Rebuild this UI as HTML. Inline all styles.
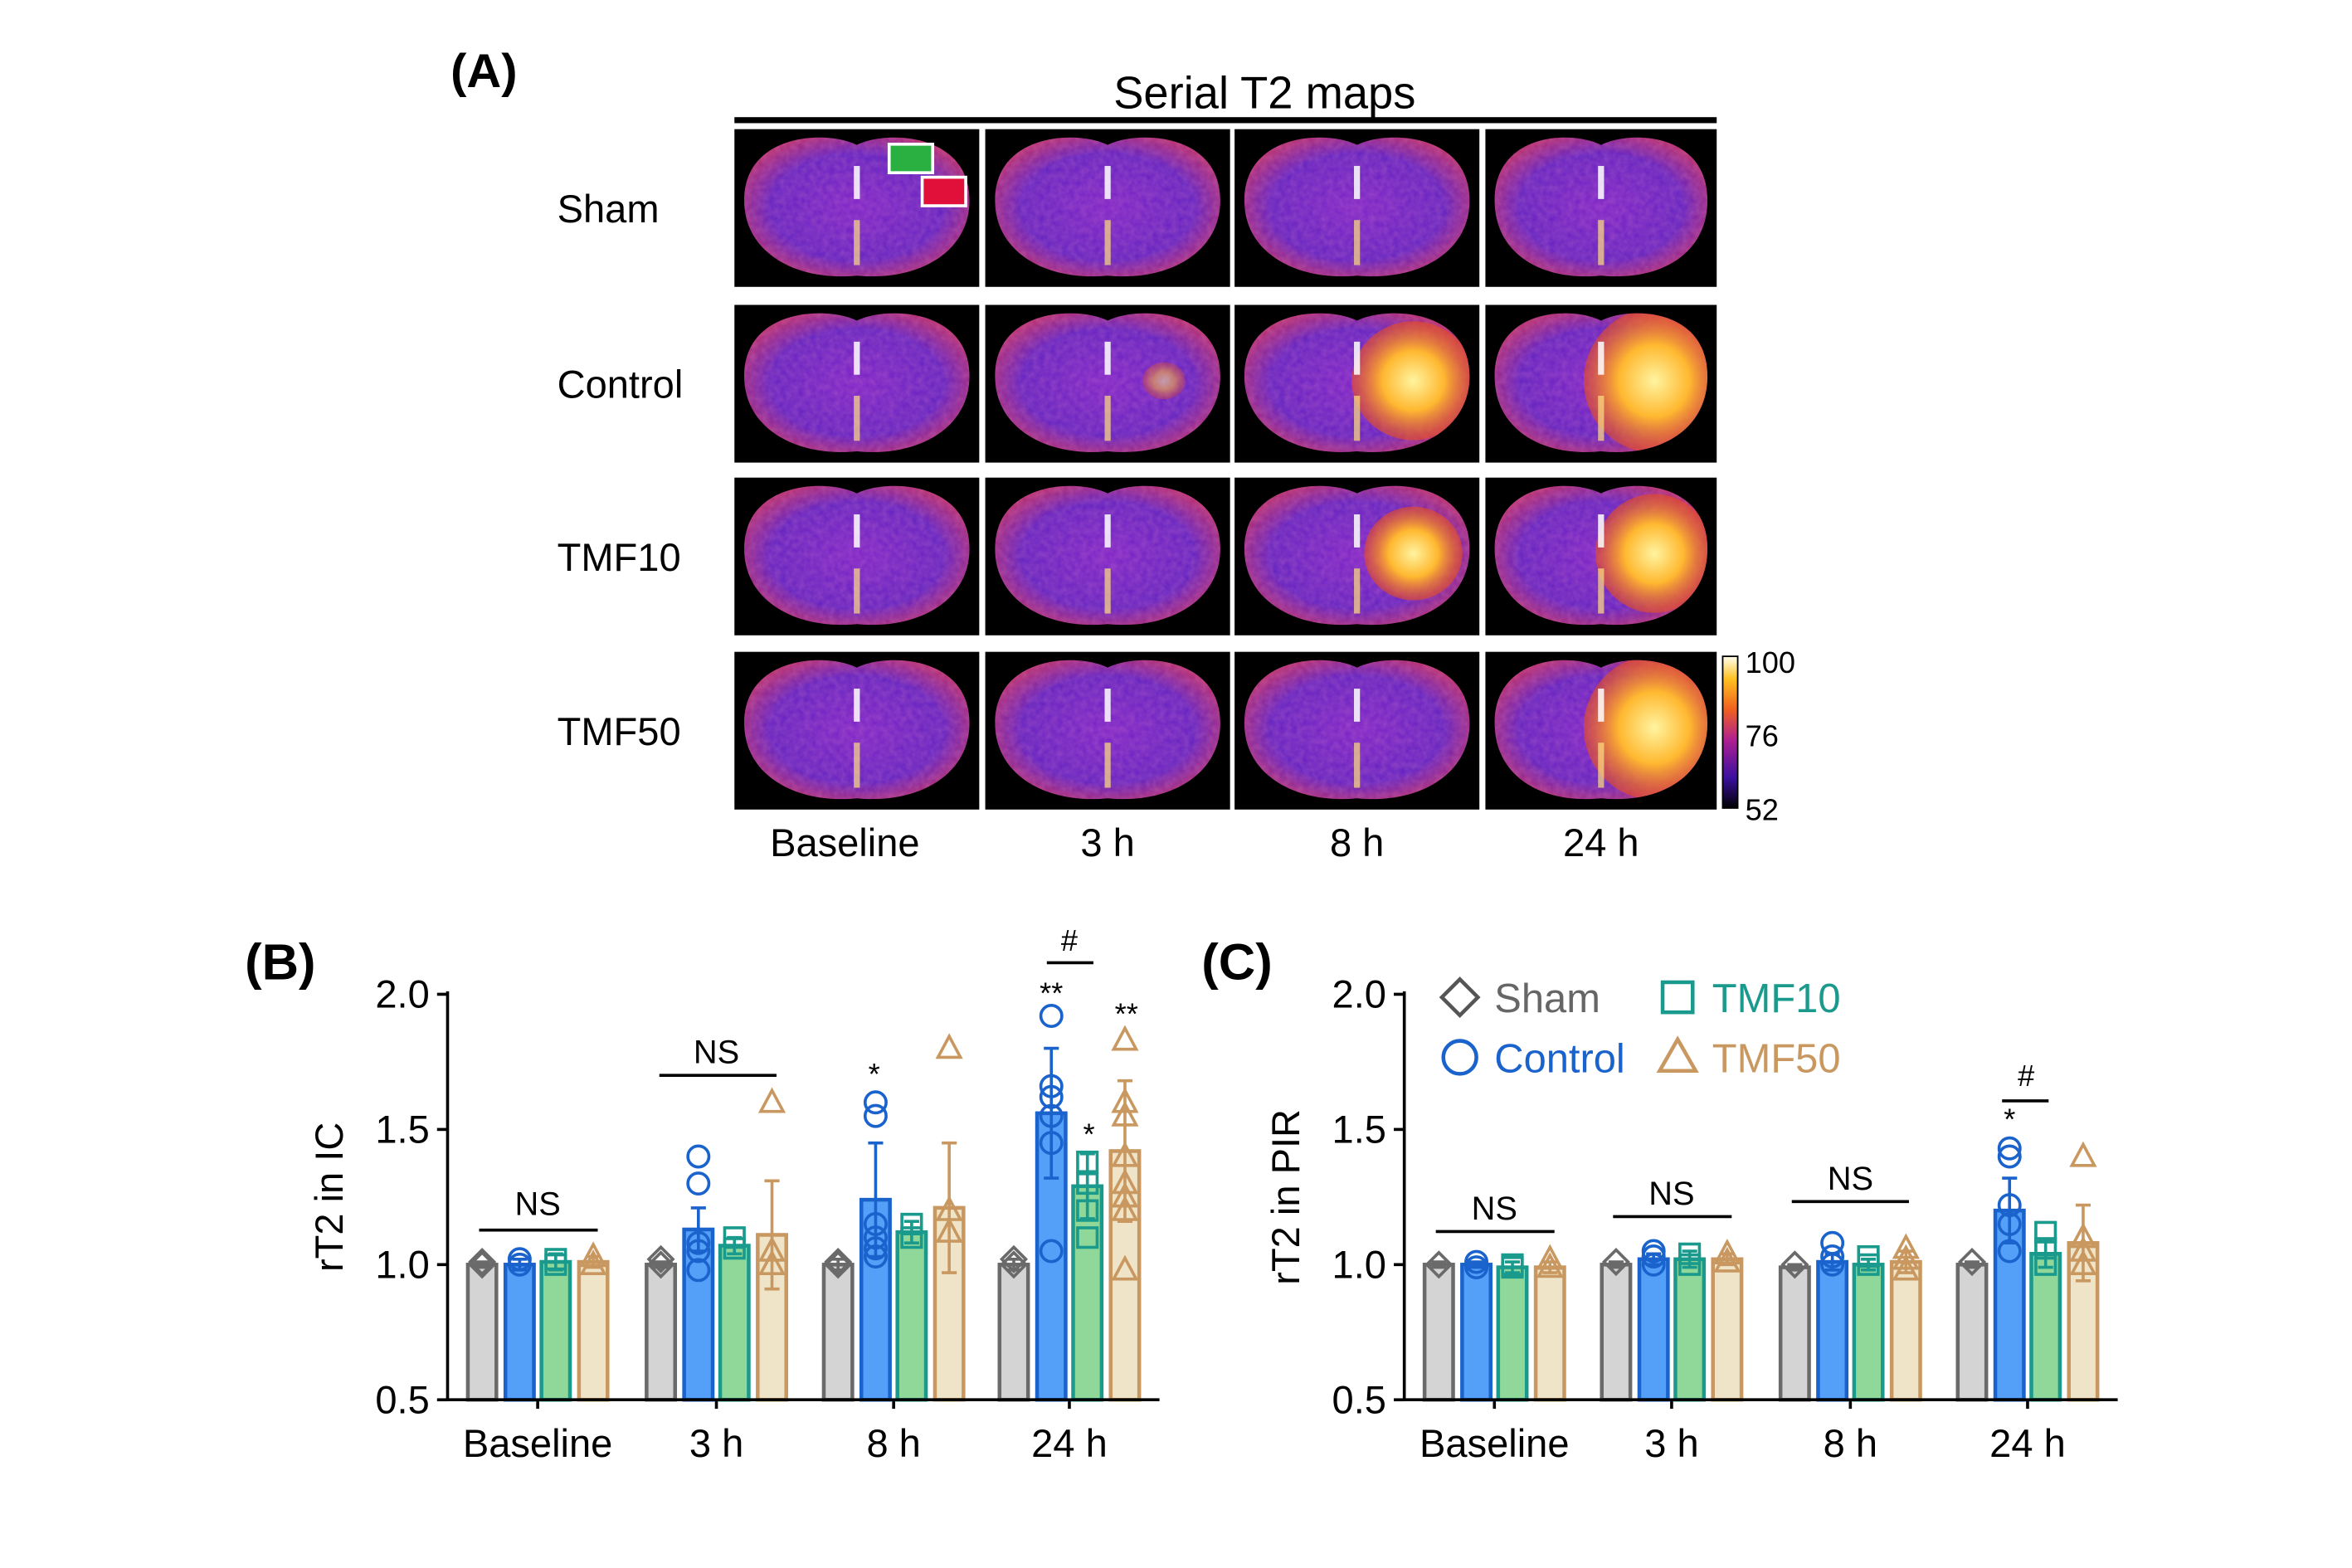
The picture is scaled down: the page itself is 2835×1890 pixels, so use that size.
<!DOCTYPE html>
<html><head><meta charset="utf-8"><style>
html,body{margin:0;padding:0;background:#fff}
svg{display:block}
text{font-family:"Liberation Sans",Arial,sans-serif}
</style></head><body>
<svg id="fig" width="2835" height="1890" viewBox="0 0 1566 1044" preserveAspectRatio="none" xmlns="http://www.w3.org/2000/svg">
<defs id="defs">
<radialGradient id="brainG" cx="50%" cy="50%" r="55%">
<stop offset="0" stop-color="#7a22c8"/><stop offset="0.7" stop-color="#6020c0"/><stop offset="1" stop-color="#b02c70"/></radialGradient>
<radialGradient id="hotG" cx="50%" cy="50%" r="50%">
<stop offset="0" stop-color="#fff4a0"/><stop offset="0.5" stop-color="#ffb830"/><stop offset="1" stop-color="#e84a20" stop-opacity="0.6"/></radialGradient>
<linearGradient id="cbar" x1="0" y1="1" x2="0" y2="0">
<stop offset="0" stop-color="#000"/><stop offset="0.2" stop-color="#3a10a0"/><stop offset="0.45" stop-color="#b02090"/><stop offset="0.65" stop-color="#f06020"/><stop offset="0.85" stop-color="#ffc020"/><stop offset="1" stop-color="#fffff0"/></linearGradient>
<filter id="noise"><feTurbulence type="fractalNoise" baseFrequency="0.25" numOctaves="2" seed="3"/><feColorMatrix values="0 0 0 0 0.9 0 0 0 0 0.3 0 0 0 0 0.6 0 0 0 0.5 0"/><feComposite in2="SourceGraphic" operator="in"/></filter>
</defs>
<text x="300" y="58" font-size="32" font-weight="bold">(A)</text>
<text x="842" y="72" font-size="30" text-anchor="middle">Serial T2 maps</text>
<rect x="489" y="78" width="654" height="4" fill="#000"/>
<g id="maps"></g>
<rect x="1147" y="437" width="10" height="101" fill="url(#cbar)" stroke="#000" stroke-width="1"/>
<text x="1162" y="448" font-size="20">100</text>
<text x="1162" y="497" font-size="20">76</text>
<text x="1162" y="546" font-size="20">52</text>
<g id="chartB"></g>
<g id="chartC"></g>
</svg>
<script>
const NS="http://www.w3.org/2000/svg";
function mk(p,tag,a){const e=document.createElementNS(NS,tag);for(const k in a)e.setAttribute(k,a[k]);p.appendChild(e);return e;}
// ---------- Panel A ----------
const rowLabels=["Sham","Control","TMF10","TMF50"];
const colLabels=["Baseline","3 h","8 h","24 h"];
const colX=[489,656,822,989], colW=[163,163,163,154];
const rowY=[86,203,318,434], rowH=105;
const lesion=[[0,0,0,0],[0,0.15,0.8,1],[0,0,0.6,0.8],[0,0,0,1]];
const maps=document.getElementById('maps');
const defs=document.getElementById('defs');
rowLabels.forEach((r,i)=>{
  const t=mk(maps,'text',{x:371,y:rowY[i]+62,'font-size':26});t.textContent=r;
  
  
  colLabels.forEach((c,j)=>{
    const g=mk(maps,'g',{});
    
    
    const x=colX[j],y=rowY[i],w=colW[j];
    mk(g,'rect',{x:x,y:y,width:w,height:rowH,fill:'#000'});
    const cx=x+w/2,cy=y+rowH/2;
    const ew=w*0.46;
    const d=`M${cx} ${cy-42} C${cx-20} ${cy-52} ${cx-ew} ${cy-50} ${cx-ew} ${cy-5} C${cx-ew} ${cy+30} ${cx-40} ${cy+49} ${cx} ${cy+45} C${cx+40} ${cy+49} ${cx+ew} ${cy+30} ${cx+ew} ${cy-5} C${cx+ew} ${cy-50} ${cx+20} ${cy-52} ${cx} ${cy-42}Z`;
    const cid='clip'+i+'_'+j;
    const cp=mk(defs,'clipPath',{id:cid});mk(cp,'path',{d:d});
    mk(g,'path',{d:d,fill:'url(#brainG)'});
    mk(g,'path',{d:d,fill:'#fff',filter:'url(#noise)',opacity:0.6});
    const L=lesion[i][j];
    if(L>0) mk(g,'ellipse',{cx:cx+ew*0.5,cy:cy-2,rx:ew*0.55*L+8,ry:42*L+6,fill:'url(#hotG)',opacity:Math.min(1,0.4+L),'clip-path':`url(#${cid})`});
    mk(g,'rect',{x:cx-2,y:cy-28,width:4,height:22,fill:'#fff',opacity:0.85});
    mk(g,'rect',{x:cx-2,y:cy+8,width:4,height:30,fill:'#ffe080',opacity:0.7});
  });
});
colLabels.forEach((c,j)=>{const t=mk(maps,'text',{x:colX[j]+colW[j]/2+(j==0?-8:0),y:570,'font-size':26,'text-anchor':'middle'});t.textContent=c;

});
mk(maps,'rect',{x:592,y:96,width:29,height:19,fill:'#2ab040',stroke:'#fff','stroke-width':2});
mk(maps,'rect',{x:614,y:118,width:29,height:19,fill:'#e0103a',stroke:'#fff','stroke-width':2});

// ---------- Charts B & C data ----------
const groups=["Baseline","3 h","8 h","24 h"];
const seriesNames=["Sham","Control","TMF10","TMF50"];
const icMeans=[[1.0,1.0,1.01,1.01],[1.0,1.13,1.07,1.11],[1.0,1.24,1.12,1.21],[1.0,1.56,1.29,1.42]];
const icErr=[[0.01,0.02,0.03,0.02],[0.01,0.08,0.03,0.2],[0.02,0.21,0.04,0.24],[0.02,0.24,0.12,0.26]];
const icPts=[[[1.0,1.01],[1.02,1.0],[1.02,1.0],[1.03,1.0]],[[1.0,1.02],[1.4,1.3,1.08,1.05,0.98],[1.1,1.06],[1.6,1.05,1.0]],[[1.0,1.01],[1.6,1.55,1.15,1.1,1.06,1.03],[1.15,1.1],[1.8,1.2,1.12]],[[1.0,1.02],[1.92,1.66,1.62,1.55,1.45,1.05],[1.38,1.3,1.2,1.1],[1.83,1.6,1.55,1.4,1.3,1.25,1.2,0.98]]];
const pirMeans=[[1.0,1.0,0.99,0.99],[1.0,1.02,1.02,1.02],[0.99,1.01,1.0,1.01],[1.0,1.2,1.04,1.08]];
const pirErr=[[0.01,0.01,0.02,0.02],[0.01,0.02,0.03,0.02],[0.01,0.03,0.02,0.04],[0.01,0.12,0.05,0.14]];
const pirPts=[[[1.0],[1.01,0.99],[0.99,1.0],[1.02,0.99]],[[1.01],[1.05,1.03,1.0],[1.04,1.0],[1.04,1.01]],[[1.0],[1.08,1.03,1.0],[1.03,1.0],[1.06,1.02,0.98]],[[1.01],[1.43,1.4,1.22,1.15,1.05],[1.12,1.06,1.0],[1.4,1.1,1.05,1.0]]];
const yTicks=[0.5,1.0,1.5,2.0];
const fills=["#d4d4d4","#54a0f8","#90d89a","#efe4c8"];
const strokes=["#6a6a6a","#1a62cc","#1a9a8c","#c99860"];
const shapes=["diamond","circle","square","triangle"];

function drawChart(gid,x0,x1,centers,means,errs,pts,ylabel,letter){
  const g=document.getElementById(gid);
  const yS=v=>932-(v-0.5)*180;
  const offs=[-37,-12,12,37], bw=19;
  const lt=mk(g,'text',{x:x0-135,y:652,'font-size':34,'font-weight':'bold'});lt.textContent=letter;
  
  
  const yl=mk(g,'text',{transform:`translate(${x0-70},797) rotate(-90)`,'font-size':26,'text-anchor':'middle'});yl.textContent=ylabel;
  
  
  means.forEach((gm,gi)=>{
    gm.forEach((m,si)=>{
      const cx=centers[gi]+offs[si];
      const b=mk(g,'rect',{x:cx-bw/2,y:yS(m),width:bw,height:yS(0.5)-yS(m),fill:fills[si],stroke:strokes[si],'stroke-width':2.5});
      
      
      const e=errs[gi][si];
      mk(g,'path',{d:`M${cx} ${yS(m-e)}V${yS(m+e)}M${cx-5} ${yS(m+e)}H${cx+5}M${cx-5} ${yS(m-e)}H${cx+5}`,stroke:strokes[si],'stroke-width':2,fill:'none'});
      pts[gi][si].forEach(v=>{
        const py=yS(v);let p;
        if(shapes[si]=="circle")p=mk(g,'circle',{cx:cx,cy:py,r:7});
        else if(shapes[si]=="square")p=mk(g,'rect',{x:cx-6.5,y:py-6.5,width:13,height:13});
        else if(shapes[si]=="diamond")p=mk(g,'path',{d:`M${cx} ${py-8}L${cx+8} ${py}L${cx} ${py+8}L${cx-8} ${py}Z`});
        else p=mk(g,'path',{d:`M${cx} ${py-8}L${cx+7.5} ${py+6}L${cx-7.5} ${py+6}Z`});
        p.setAttribute('fill','none');p.setAttribute('stroke',strokes[si]);p.setAttribute('stroke-width',2);
        
        
      });
    });
    const tk=mk(g,'line',{x1:centers[gi],x2:centers[gi],y1:932,y2:938,stroke:'#000','stroke-width':2});
    const tl=mk(g,'text',{x:centers[gi],y:970,'font-size':26,'text-anchor':'middle'});tl.textContent=groups[gi];
    
    
  });
  mk(g,'line',{x1:x0,x2:x0,y1:660,y2:933,stroke:'#000','stroke-width':2});
  mk(g,'line',{x1:x0-1,x2:x1,y1:932,y2:932,stroke:'#000','stroke-width':2});
  yTicks.forEach(t=>{mk(g,'line',{x1:x0-7,x2:x0,y1:yS(t),y2:yS(t),stroke:'#000','stroke-width':2});
    const tt=mk(g,'text',{x:x0-12,y:yS(t)+9,'font-size':26,'text-anchor':'end'});tt.textContent=t.toFixed(1);
    
    });
  return {g,yS};
}
function ann(g,x,y,s,size){const t=mk(g,'text',{x:x,y:y,'font-size':size||22,'text-anchor':'middle'});t.textContent=s;
  
  }
function bar(g,x1,x2,y){mk(g,'line',{x1:x1,x2:x2,y1:y,y2:y,stroke:'#000','stroke-width':2});}

const centersB=[358,477,595,712];
const B=drawChart('chartB',298,772,centersB,icMeans,icErr,icPts,'rT2 in IC','(B)');
bar(B.g,319,398,819);ann(B.g,358,809,'NS');
bar(B.g,439,517,716);ann(B.g,477,708,'NS');
ann(B.g,582,722,'*',20);
ann(B.g,700,668,'**',20);ann(B.g,725,762,'*',20);ann(B.g,750,682,'**',20);
bar(B.g,697,728,641);ann(B.g,712,633,'#',20);

const centersC=[995,1113,1232,1350];
const C=drawChart('chartC',935,1410,centersC,pirMeans,pirErr,pirPts,'rT2 in PIR','(C)');
bar(C.g,956,1035,820);ann(C.g,995,812,'NS');
bar(C.g,1074,1153,810);ann(C.g,1113,802,'NS');
bar(C.g,1193,1271,800);ann(C.g,1232,792,'NS');
ann(C.g,1338,752,'*',20);
bar(C.g,1333,1364,733);ann(C.g,1349,723,'#',20);
const lg=document.getElementById('chartC');
const legItems=[[972,664,0,"Sham"],[1117,664,2,"TMF10"],[972,704,1,"Control"],[1117,704,3,"TMF50"]];
legItems.forEach(([lx,ly,si,name])=>{
  const grp=mk(lg,'g',{});
  
  
  let p;
  if(si==0)p=mk(grp,'path',{d:`M${lx} ${ly-12}L${lx+12} ${ly}L${lx} ${ly+12}L${lx-12} ${ly}Z`});
  else if(si==1)p=mk(grp,'circle',{cx:lx,cy:ly,r:11});
  else if(si==2)p=mk(grp,'rect',{x:lx-10,y:ly-10,width:20,height:20});
  else p=mk(grp,'path',{d:`M${lx} ${ly-12}L${lx+12} ${ly+9}L${lx-12} ${ly+9}Z`});
  p.setAttribute('fill','none');p.setAttribute('stroke',si==0?'#555':strokes[si]);p.setAttribute('stroke-width',2.5);
  const t=mk(grp,'text',{x:lx+23,y:ly+10,'font-size':27,fill:si==0?'#666':strokes[si]});t.textContent=name;
});
</script>
</body></html>
